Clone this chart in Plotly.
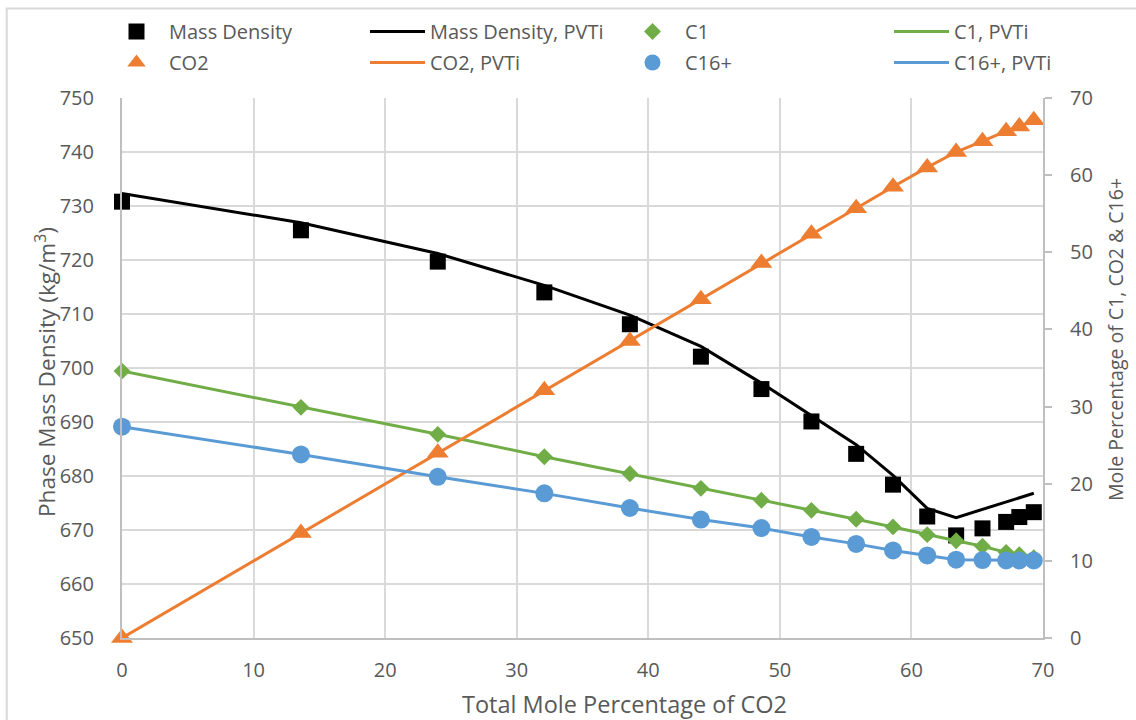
import plotly.graph_objects as go

# ---- data ----
co2_total = [0, 13.6, 24.0, 32.1, 38.6, 44.0, 48.6, 52.4, 55.8, 58.6, 61.2, 63.4, 65.4, 67.2, 68.2, 69.3]
mass_density = [730.8, 725.5, 719.7, 714.0, 708.1, 702.1, 696.1, 690.1, 684.1, 678.4, 672.5, 669.0, 670.3, 671.5, 672.4, 673.3]
mass_density_pvti = [732.3, 726.9, 721.2, 715.3, 709.8, 704.0, 697.2, 691.2, 685.8, 680.1, 674.0, 672.3, 673.8, 675.1, 675.9, 676.8]
c1 = [34.6, 29.9, 26.4, 23.5, 21.3, 19.4, 17.85, 16.55, 15.4, 14.4, 13.4, 12.6, 11.9, 11.1, 10.8, 10.4]
c1_pvti = [34.6, 29.9, 26.4, 23.5, 21.3, 19.4, 17.85, 16.55, 15.4, 14.4, 13.4, 12.6, 11.9, 11.1, 10.8, 10.4]
co2 = [0, 13.6, 24.0, 32.1, 38.5, 43.9, 48.6, 52.4, 55.7, 58.5, 61.0, 63.0, 64.4, 65.7, 66.3, 67.1]
co2_pvti = [0, 13.6, 24.0, 32.1, 38.5, 43.9, 48.6, 52.4, 55.7, 58.5, 61.0, 63.0, 64.4, 65.7, 66.3, 67.1]
c16 = [27.4, 23.8, 20.9, 18.75, 16.85, 15.35, 14.25, 13.1, 12.2, 11.35, 10.7, 10.15, 10.1, 10.05, 10.05, 10.05]
c16_pvti = [27.4, 23.8, 20.9, 18.75, 16.85, 15.35, 14.25, 13.1, 12.2, 11.35, 10.7, 10.15, 10.1, 10.05, 10.05, 10.05]

x_ticks = [0, 10, 20, 30, 40, 50, 60, 70]
y_ticks = [650, 660, 670, 680, 690, 700, 710, 720, 730, 740, 750]
y2_ticks = [0, 10, 20, 30, 40, 50, 60, 70]

x_title = "Total Mole Percentage of CO2"
y_title = "Phase Mass Density (kg/m<sup>3</sup>)"
y2_title = "Mole Percentage of C1, CO2 &amp; C16+"

BLACK = "#000000"
ORANGE = "#ED7D31"
GREEN = "#70AD47"
BLUE = "#5B9BD5"
TXT = "#595959"
GRID = "#D9D9D9"
AX = "#BFBFBF"
FONT = "Open Sans"

fig = go.Figure()

# primary axis
fig.add_trace(go.Scatter(x=co2_total, y=mass_density, mode="markers", name="Mass Density",
                         marker=dict(symbol="square", size=16, color=BLACK), cliponaxis=False,
                         legend="legend", legendgroup="a"))
fig.add_trace(go.Scatter(x=co2_total, y=mass_density_pvti, mode="lines", name="Mass Density, PVTi",
                         line=dict(color=BLACK, width=3),
                         legend="legend2", legendgroup="b"))
# secondary axis
fig.add_trace(go.Scatter(x=co2_total, y=c1_pvti, mode="lines", name="C1, PVTi",
                         line=dict(color=GREEN, width=3), yaxis="y2",
                         legend="legend4", legendgroup="c"))
fig.add_trace(go.Scatter(x=co2_total, y=c1, mode="markers", name="C1",
                         marker=dict(symbol="diamond", size=13, color=GREEN), yaxis="y2",
                         cliponaxis=False, legend="legend3", legendgroup="d"))
fig.add_trace(go.Scatter(x=co2_total, y=co2_pvti, mode="lines", name="CO2, PVTi",
                         line=dict(color=ORANGE, width=3), yaxis="y2",
                         legend="legend2", legendgroup="e"))
fig.add_trace(go.Scatter(x=co2_total, y=co2, mode="markers", name="CO2",
                         marker=dict(symbol="triangle-up", size=19, color=ORANGE), yaxis="y2",
                         cliponaxis=False, legend="legend", legendgroup="f"))
fig.add_trace(go.Scatter(x=co2_total, y=c16_pvti, mode="lines", name="C16+, PVTi",
                         line=dict(color=BLUE, width=3), yaxis="y2",
                         legend="legend4", legendgroup="g"))
fig.add_trace(go.Scatter(x=co2_total, y=c16, mode="markers", name="C16+",
                         marker=dict(symbol="circle", size=18, color=BLUE), yaxis="y2",
                         cliponaxis=False, legend="legend3", legendgroup="h"))

W, H = 1136, 720
L, R, T, B = 122, 1043, 98, 638

def leg(xpx, order):
    return dict(xref="container", yref="container", x=xpx / W, y=1 - 12 / H,
                xanchor="left", yanchor="top", orientation="v",
                font=dict(family=FONT, size=20, color=TXT), bgcolor="rgba(0,0,0,0)",
                itemwidth=55, tracegroupgap=2, traceorder=order)

tick_font = dict(family=FONT, size=20, color=TXT)

fig.update_layout(
    width=W, height=H,
    margin=dict(l=L, r=W - R, t=T, b=H - B, pad=0, autoexpand=False),
    paper_bgcolor="white", plot_bgcolor="white",
    font=dict(family=FONT, size=18, color=TXT),
    xaxis=dict(range=[0, 70], tickvals=x_ticks, ticktext=[str(v) for v in x_ticks],
               showgrid=True, gridcolor=GRID, gridwidth=1.5,
               showline=True, linecolor=AX, linewidth=2, zeroline=False,
               ticks="", ticklabelstandoff=13, automargin=False, tickfont=tick_font),
    yaxis=dict(range=[650, 750], tickvals=y_ticks, ticktext=[str(v) for v in y_ticks],
               showgrid=True, gridcolor=GRID, gridwidth=1.5,
               showline=True, linecolor=AX, linewidth=2, zeroline=False,
               ticks="", ticklabelstandoff=22, automargin=False, tickfont=tick_font),
    yaxis2=dict(range=[0, 70], tickvals=y2_ticks, ticktext=[str(v) for v in y2_ticks],
                overlaying="y", side="right", showgrid=False,
                showline=True, linecolor=AX, linewidth=2, zeroline=False,
                ticks="outside", ticklen=7, tickwidth=2, tickcolor=AX, ticklabelstandoff=14,
                automargin=False, tickfont=tick_font),
    legend=leg(104, "grouped"),
    legend2=leg(365, "grouped"),
    legend3=leg(620, "reversed+grouped"),
    legend4=leg(889, "reversed+grouped"),
    annotations=[
        dict(text=x_title, xref="paper", yref="paper", x=(624 - L) / (R - L), y=(B - 704) / (B - T),
             xanchor="center", yanchor="middle", showarrow=False,
             font=dict(family=FONT, size=23.5, color=TXT)),
        dict(text=y_title, xref="paper", yref="paper", x=(45 - L) / (R - L), y=(B - 372) / (B - T),
             xanchor="center", yanchor="middle", textangle=-90, showarrow=False,
             font=dict(family=FONT, size=22.6, color=TXT)),
        dict(text=y2_title, xref="paper", yref="paper", x=(1115 - L) / (R - L), y=(B - 340) / (B - T),
             xanchor="center", yanchor="middle", textangle=-90, showarrow=False,
             font=dict(family=FONT, size=19.5, color=TXT)),
    ],
    shapes=[dict(type="rect", xref="paper", yref="paper",
                 x0=(6.7 - L) / (R - L), x1=(W + 20 - L) / (R - L),
                 y0=(B - (H + 20)) / (B - T), y1=(B - 8.5) / (B - T),
                 line=dict(color="#D9D9D9", width=2), fillcolor="rgba(0,0,0,0)", layer="below")],
)

fig.write_html("out.html")
